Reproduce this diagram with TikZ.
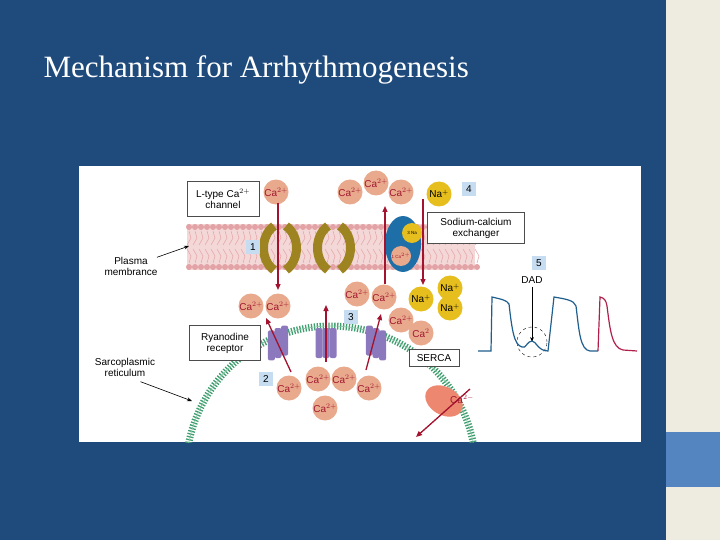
\documentclass[tikz,border=0pt]{standalone}
\usepackage{fontspec}
\setmainfont{Liberation Serif}
\setsansfont{Liberation Sans}
\usetikzlibrary{arrows.meta,shapes.geometric}
\definecolor{bg}{HTML}{1F4A7C}
\definecolor{cream}{HTML}{EEECE1}
\definecolor{lblue}{HTML}{5585C0}
\definecolor{cafill}{HTML}{E9A98C}
\definecolor{catext}{HTML}{A01830}
\definecolor{nafill}{HTML}{E6BE1E}
\definecolor{arr}{HTML}{A3122E}
\definecolor{labbox}{HTML}{C6DCF0}
\definecolor{olive}{HTML}{9E8420}
\definecolor{lipid}{HTML}{F4D8D8}
\definecolor{head}{HTML}{E2A2A6}
\definecolor{srg}{HTML}{3E9E6E}
\definecolor{ryr}{HTML}{8C78BC}
\definecolor{exch}{HTML}{1E6FA8}
\definecolor{trace}{HTML}{1F5F8E}
\definecolor{redtr}{HTML}{B0204A}
\begin{document}
\begin{tikzpicture}[x=1pt,y=-1pt,
  ca/.style={circle,fill=cafill,inner sep=0pt,minimum size=25pt,text=catext,font=\sffamily\fontsize{10}{10}\selectfont},
  na/.style={ca,fill=nafill,text=black},
  numbox/.style={fill=labbox,inner sep=0pt,minimum width=14pt,minimum height=14pt,font=\sffamily\fontsize{10}{10}\selectfont},
  txtbox/.style={draw=black!70,fill=white,inner sep=2pt,align=center,font=\sffamily\fontsize{10}{11}\selectfont},
  plain/.style={align=center,font=\sffamily\fontsize{10}{11}\selectfont},
  flow/.style={arr,line width=1.3pt,-{Triangle[length=6pt,width=5pt]}},
  pointer/.style={black,line width=0.6pt,-{Stealth[length=5pt]}},
  rec/.style={fill=ryr,rounded corners=2pt,minimum width=7pt,minimum height=30pt,inner sep=0pt}]
\useasboundingbox (0,0) rectangle (720,540);
\fill[bg] (0,0) rectangle (666,540);
\fill[cream] (666,0) rectangle (720,540);
\fill[lblue] (666,432) rectangle (720,487);
\node[anchor=west,text=white,font=\fontsize{31}{31}\selectfont] (title) at (40,70) {Mechanism for Arrhythmogenesis};
\fill[white] (79,166) rectangle (641,442);
% membrane
\fill[lipid] (187,224) rectangle (475,270);
\foreach \i in {0,...,48}{
  \fill[head] (189+6*\i,227) circle (3pt);
  \fill[head] (189+6*\i,267) circle (3pt);
  \draw[head,line width=0.5pt] (189+6*\i,231) -- (191+6*\i,238) -- (187+6*\i,245) (189+6*\i,263) -- (191+6*\i,256) -- (187+6*\i,249);}
% channels
\foreach \cx in {280,334}{
  \draw[olive,line width=9pt] (\cx-6,226) .. controls (\cx-20,236) and (\cx-20,260) .. (\cx-6,270);
  \draw[olive,line width=9pt] (\cx+6,226) .. controls (\cx+20,236) and (\cx+20,260) .. (\cx+6,270);}
% SR
\begin{scope}
\clip (79,166) rectangle (641,442);
\draw[srg,line width=7pt,dash pattern=on 1.3pt off 1.6pt] plot[domain=8:170,samples=80] ({331+145*cos(\x)},{471-145*sin(\x)});
\draw[srg!60,line width=0.6pt] plot[domain=8:170,samples=80] ({331+145*cos(\x)},{471-145*sin(\x)});
\end{scope}
% exchanger
\node[ellipse,fill=exch,minimum width=36pt,minimum height=56pt] (ex) at (403,244) {};
\node[circle,fill=nafill,minimum size=20pt,inner sep=0pt,font=\sffamily\fontsize{4.5}{5}\selectfont] (ex1) at (412,233) {3 Na};
\node[circle,fill=cafill,minimum size=20pt,inner sep=0pt,text=catext,font=\sffamily\fontsize{4.5}{5}\selectfont] (ex2) at (401,256) {1 Ca$^{2+}$};
% ryanodine receptors
\foreach \rx/\ang [count=\k] in {278/20,326/0,376/-20}{
  \begin{scope}[shift={(\rx,343)},rotate=\ang]
  \node[rec] (r\k a) at (-7,0) {};
  \node[rec] (r\k b) at (0,0) {};
  \node[rec] (r\k c) at (7,0) {};
  \end{scope}}
% SERCA
\node[ellipse,fill=cafill!80!red,minimum width=40pt,minimum height=28pt,rotate=-30] (serca) at (444,401) {};
% calcium & sodium
\node[ca] (ca1) at (276,192) {Ca$^{2+}$};
\node[ca] (ca2) at (350,192) {Ca$^{2+}$};
\node[ca] (ca3) at (376,183) {Ca$^{2+}$};
\node[ca] (ca4) at (401,192) {Ca$^{2+}$};
\node[na] (na1) at (439,194) {Na$^{+}$};
\node[ca] (ca5) at (251,306) {Ca$^{2+}$};
\node[ca] (ca6) at (278,306) {Ca$^{2+}$};
\node[ca] (ca7) at (357,294) {Ca$^{2+}$};
\node[ca] (ca8) at (384,297) {Ca$^{2+}$};
\node[na] (na2) at (421,299) {Na$^{+}$};
\node[na] (na3) at (450,288) {Na$^{+}$};
\node[na] (na4) at (450,308) {Na$^{+}$};
\node[ca] (ca9) at (401,320) {Ca$^{2+}$};
\node[ca] (ca10) at (421,333) {Ca$^{2}$};
\node[ca] (ca11) at (289,388) {Ca$^{2+}$};
\node[ca] (ca12) at (318,379) {Ca$^{2+}$};
\node[ca] (ca13) at (344,379) {Ca$^{2+}$};
\node[ca] (ca14) at (369,388) {Ca$^{2+}$};
\node[ca] (ca15) at (325,408) {Ca$^{2+}$};
\node[text=catext,font=\sffamily\fontsize{10}{10}\selectfont] (ca16) at (462,399) {Ca$^{2-}$};
% arrows
\coordinate (a1s) at (278,203); \coordinate (a1e) at (278,290);
\draw[flow] (a1s) -- (a1e);
\coordinate (a2s) at (385,284); \coordinate (a2e) at (385,206);
\draw[flow] (a2s) -- (a2e);
\coordinate (a3s) at (423,199); \coordinate (a3e) at (423,285);
\draw[flow] (a3s) -- (a3e);
\coordinate (r1s) at (291,372); \coordinate (r1e) at (266,318);
\draw[flow] (r1s) -- (r1e);
\coordinate (r2s) at (326,362); \coordinate (r2e) at (326,305);
\draw[flow] (r2s) -- (r2e);
\coordinate (r3s) at (366,370); \coordinate (r3e) at (381,314);
\draw[flow] (r3s) -- (r3e);
\coordinate (s1s) at (470,389); \coordinate (s1e) at (416,437);
\draw[flow] (s1s) -- (s1e);
% labels
\node[txtbox,minimum width=72pt,minimum height=35pt] (ltype) at (223,199) {L-type Ca$^{2+}$\\channel};
\node[txtbox,minimum width=97pt,minimum height=31pt] (ncx) at (476,228) {Sodium-calcium\\exchanger};
\node[txtbox,minimum width=71pt,minimum height=35pt] (ryan) at (225,343) {Ryanodine\\receptor};
\node[txtbox,minimum width=50pt,minimum height=17pt] (serbox) at (434,358) {SERCA};
\node[numbox] (n1) at (253,247) {1};
\node[numbox] (n2) at (266,379) {2};
\node[numbox] (n3) at (351,317) {3};
\node[numbox] (n4) at (469,189) {4};
\node[numbox] (n5) at (539,263) {5};
\node[plain] (pm) at (131,266) {Plasma\\membrance};
\node[plain] (sr) at (125,367) {Sarcoplasmic\\reticulum};
\coordinate (pmt) at (189,246);
\coordinate (srt) at (192,401);
\draw[pointer] (pm.north east) ++(-4,4) -- (pmt);
\draw[pointer] (sr.south east) ++(-18,2) -- (srt);
% DAD
\node[plain] (dad) at (532,280) {DAD};
\node[circle,draw=black,dashed,minimum size=30pt,inner sep=0pt] (dadc) at (532,342) {};
\draw[pointer] (dad) -- (dadc.center);
\draw[trace,line width=1.2pt] (478,351) -- (491,351) -- (492,297) .. controls (500,299) and (507,300) .. (509,304) .. controls (512,330) and (514,345) .. (522,347) .. controls (526,349) and (527,341) .. (532,341) .. controls (536,341) and (538,351) .. (548,351) -- (554,297) .. controls (565,299) and (574,300) .. (576,306) .. controls (579,330) and (580,350) .. (590,351) -- (598,351);
\draw[redtr,line width=1.2pt] (598,351) -- (600,297) .. controls (604,298) and (606,300) .. (607,306) .. controls (610,330) and (612,348) .. (623,350) -- (637,351);
\end{tikzpicture}
\end{document}
